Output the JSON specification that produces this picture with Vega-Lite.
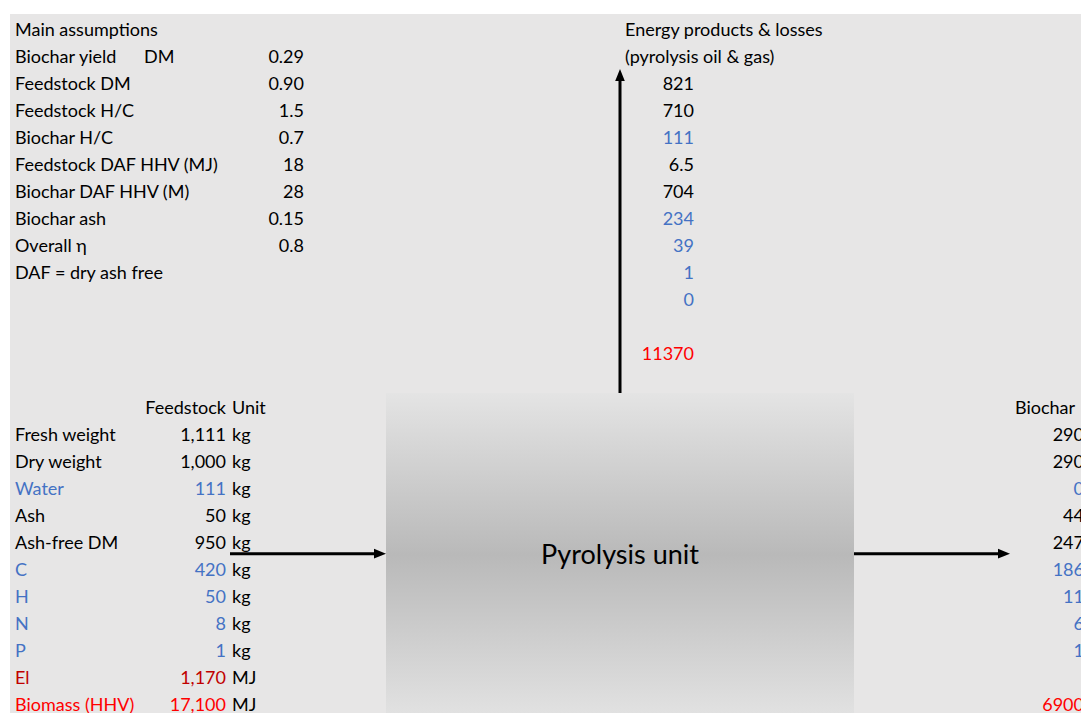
{
  "$schema": "https://vega.github.io/schema/vega-lite/v6.json",
  "width": 1081,
  "height": 713,
  "autosize": {"type": "fit", "contains": "padding"},
  "padding": {"left": 10, "top": 14, "right": 0, "bottom": 0},
  "background": "#ffffff",
  "view": {"fill": "#e7e6e6", "stroke": null},
  "config": {"text": {"font": "Lato", "fontSize": 18}},
  "datasets": {
    "labels": [
      {"col": 0, "row": 1, "text": "Main assumptions", "kind": "text"},
      {"col": 0, "row": 2, "text": "Biochar yield\u00a0\u00a0\u00a0\u00a0\u00a0 DM", "kind": "text"},
      {"col": 0, "row": 3, "text": "Feedstock DM", "kind": "text"},
      {"col": 0, "row": 4, "text": "Feedstock H/C", "kind": "text"},
      {"col": 0, "row": 5, "text": "Biochar H/C", "kind": "text"},
      {"col": 0, "row": 6, "text": "Feedstock DAF HHV (MJ)", "kind": "text"},
      {"col": 0, "row": 7, "text": "Biochar DAF HHV (M)", "kind": "text"},
      {"col": 0, "row": 8, "text": "Biochar ash", "kind": "text"},
      {"col": 0, "row": 9, "text": "Overall η", "kind": "text"},
      {"col": 0, "row": 10, "text": "DAF = dry ash free", "kind": "text"},
      {"col": 7, "row": 1, "text": "Energy products & losses", "kind": "text"},
      {"col": 7, "row": 2, "text": "(pyrolysis oil & gas)", "kind": "text"},
      {"col": 0, "row": 16, "text": "Fresh weight", "kind": "text"},
      {"col": 0, "row": 17, "text": "Dry weight", "kind": "text"},
      {"col": 0, "row": 18, "text": "Water", "kind": "component"},
      {"col": 0, "row": 19, "text": "Ash", "kind": "text"},
      {"col": 0, "row": 20, "text": "Ash-free DM", "kind": "text"},
      {"col": 0, "row": 21, "text": "C", "kind": "component"},
      {"col": 0, "row": 22, "text": "H", "kind": "component"},
      {"col": 0, "row": 23, "text": "N", "kind": "component"},
      {"col": 0, "row": 24, "text": "P", "kind": "component"},
      {"col": 0, "row": 25, "text": "El", "kind": "electricity"},
      {"col": 0, "row": 26, "text": "Biomass (HHV)", "kind": "energy"},
      {"col": 12, "row": 15, "text": "Biochar", "kind": "text"}
    ],
    "values": [
      {"col": 2, "row": 2, "text": "0.29", "kind": "text"},
      {"col": 2, "row": 3, "text": "0.90", "kind": "text"},
      {"col": 2, "row": 4, "text": "1.5", "kind": "text"},
      {"col": 2, "row": 5, "text": "0.7", "kind": "text"},
      {"col": 2, "row": 6, "text": "18", "kind": "text"},
      {"col": 2, "row": 7, "text": "28", "kind": "text"},
      {"col": 2, "row": 8, "text": "0.15", "kind": "text"},
      {"col": 2, "row": 9, "text": "0.8", "kind": "text"},
      {"col": 1, "row": 15, "text": "Feedstock", "kind": "text"},
      {"col": 1, "row": 16, "text": "1,111", "kind": "text"},
      {"col": 1, "row": 17, "text": "1,000", "kind": "text"},
      {"col": 1, "row": 18, "text": "111", "kind": "component"},
      {"col": 1, "row": 19, "text": "50", "kind": "text"},
      {"col": 1, "row": 20, "text": "950", "kind": "text"},
      {"col": 1, "row": 21, "text": "420", "kind": "component"},
      {"col": 1, "row": 22, "text": "50", "kind": "component"},
      {"col": 1, "row": 23, "text": "8", "kind": "component"},
      {"col": 1, "row": 24, "text": "1", "kind": "component"},
      {"col": 1, "row": 25, "text": "1,170\u00a0", "kind": "electricity"},
      {"col": 1, "row": 26, "text": "17,100", "kind": "energy"},
      {"col": 7, "row": 3, "text": "821", "kind": "text"},
      {"col": 7, "row": 4, "text": "710", "kind": "text"},
      {"col": 7, "row": 5, "text": "111", "kind": "component"},
      {"col": 7, "row": 6, "text": "6.5", "kind": "text"},
      {"col": 7, "row": 7, "text": "704", "kind": "text"},
      {"col": 7, "row": 8, "text": "234", "kind": "component"},
      {"col": 7, "row": 9, "text": "39", "kind": "component"},
      {"col": 7, "row": 10, "text": "1", "kind": "component"},
      {"col": 7, "row": 11, "text": "0", "kind": "component"},
      {"col": 7, "row": 13, "text": "11370", "kind": "energy"},
      {"col": 12, "row": 16, "text": "290", "kind": "text"},
      {"col": 12, "row": 17, "text": "290", "kind": "text"},
      {"col": 12, "row": 18, "text": "0", "kind": "component"},
      {"col": 12, "row": 19, "text": "44", "kind": "text"},
      {"col": 12, "row": 20, "text": "247", "kind": "text"},
      {"col": 12, "row": 21, "text": "186", "kind": "component"},
      {"col": 12, "row": 22, "text": "11", "kind": "component"},
      {"col": 12, "row": 23, "text": "6", "kind": "component"},
      {"col": 12, "row": 24, "text": "1", "kind": "component"},
      {"col": 12, "row": 26, "text": "6900", "kind": "energy"}
    ],
    "units": [
      {"col": 2, "row": 15, "text": "Unit", "kind": "text"},
      {"col": 2, "row": 16, "text": "kg", "kind": "text"},
      {"col": 2, "row": 17, "text": "kg", "kind": "text"},
      {"col": 2, "row": 18, "text": "kg", "kind": "text"},
      {"col": 2, "row": 19, "text": "kg", "kind": "text"},
      {"col": 2, "row": 20, "text": "kg", "kind": "text"},
      {"col": 2, "row": 21, "text": "kg", "kind": "text"},
      {"col": 2, "row": 22, "text": "kg", "kind": "text"},
      {"col": 2, "row": 23, "text": "kg", "kind": "text"},
      {"col": 2, "row": 24, "text": "kg", "kind": "text"},
      {"col": 2, "row": 25, "text": "MJ", "kind": "text"},
      {"col": 2, "row": 26, "text": "MJ", "kind": "text"}
    ],
    "unit": [
      {"name": "Pyrolysis unit", "c0": 4, "c1": 10, "r0": 14, "r1": 26, "cx": 7, "cy": 19.95}
    ],
    "flows": [
      {"flow": "feedstock in", "c0": 2, "c1": 4, "r0": 19.95, "r1": 19.95},
      {"flow": "biochar out", "c0": 10, "c1": 12, "r0": 19.95, "r1": 19.95},
      {"flow": "oil & gas out", "c0": 7, "c1": 7, "r0": 14, "r1": 2}
    ]
  },
  "layer": [
    {
      "data": {"name": "unit"},
      "mark": {
        "type": "rect",
        "color": {
          "gradient": "linear", "x1": 0, "y1": 0, "x2": 0, "y2": 1,
          "stops": [
            {"offset": 0, "color": "#e4e4e4"},
            {"offset": 0.5, "color": "#b9b9b9"},
            {"offset": 1, "color": "#e2e2e2"}
          ]
        }
      },
      "encoding": {
        "x": {"field": "c0", "type": "quantitative", "scale": {"domain": [0, 1, 13], "range": [0, 142, 1078]}, "axis": null},
        "x2": {"field": "c1"},
        "y": {"field": "r0", "type": "quantitative", "scale": {"domain": [0, 26], "range": [1, 703]}, "axis": null},
        "y2": {"field": "r1"}
      }
    },
    {
      "data": {"name": "unit"},
      "mark": {"type": "text", "fontSize": 27, "baseline": "middle", "align": "center", "color": "#000000", "dy": 2},
      "encoding": {
        "x": {"field": "cx", "type": "quantitative"},
        "y": {"field": "cy", "type": "quantitative"},
        "text": {"field": "name"}
      }
    },
    {
      "data": {"name": "flows"},
      "transform": [{"filter": "datum.flow !== 'oil & gas out'"}],
      "mark": {"type": "rule", "strokeWidth": 3, "color": "#000000", "x2Offset": -8},
      "encoding": {
        "x": {"field": "c0", "type": "quantitative"},
        "x2": {"field": "c1"},
        "y": {"field": "r0", "type": "quantitative"}
      }
    },
    {
      "data": {"name": "flows"},
      "transform": [{"filter": "datum.flow !== 'oil & gas out'"}],
      "mark": {"type": "point", "shape": "M0,0L-2,-0.8L-2,0.8Z", "size": 144, "filled": true, "color": "#000000", "opacity": 1},
      "encoding": {
        "x": {"field": "c1", "type": "quantitative"},
        "y": {"field": "r1", "type": "quantitative"}
      }
    },
    {
      "data": {"name": "flows"},
      "transform": [{"filter": "datum.flow === 'oil & gas out'"}],
      "mark": {"type": "rule", "strokeWidth": 3, "color": "#000000", "y2Offset": 8},
      "encoding": {
        "x": {"field": "c0", "type": "quantitative"},
        "y": {"field": "r0", "type": "quantitative"},
        "y2": {"field": "r1"}
      }
    },
    {
      "data": {"name": "flows"},
      "transform": [{"filter": "datum.flow === 'oil & gas out'"}],
      "mark": {"type": "point", "shape": "M0,0L-0.8,2L0.8,2Z", "size": 144, "filled": true, "color": "#000000", "opacity": 1},
      "encoding": {
        "x": {"field": "c1", "type": "quantitative"},
        "y": {"field": "r1", "type": "quantitative"}
      }
    },
    {
      "data": {"name": "labels"},
      "mark": {"type": "text", "align": "left", "baseline": "alphabetic", "dx": 5, "dy": -6},
      "encoding": {
        "x": {"field": "col", "type": "quantitative"},
        "y": {"field": "row", "type": "quantitative"},
        "text": {"field": "text"},
        "color": {"field": "kind", "type": "nominal", "legend": null,
          "scale": {"domain": ["text", "component", "electricity", "energy"], "range": ["#000000", "#4472c4", "#c00000", "#ff0000"]}}
      }
    },
    {
      "data": {"name": "values"},
      "mark": {"type": "text", "align": "right", "baseline": "alphabetic", "dx": 74, "dy": -6},
      "encoding": {
        "x": {"field": "col", "type": "quantitative"},
        "y": {"field": "row", "type": "quantitative"},
        "text": {"field": "text"},
        "color": {"field": "kind", "type": "nominal", "legend": null}
      }
    },
    {
      "data": {"name": "units"},
      "mark": {"type": "text", "align": "left", "baseline": "alphabetic", "dx": 2, "dy": -6},
      "encoding": {
        "x": {"field": "col", "type": "quantitative"},
        "y": {"field": "row", "type": "quantitative"},
        "text": {"field": "text"},
        "color": {"field": "kind", "type": "nominal", "legend": null}
      }
    }
  ]
}
